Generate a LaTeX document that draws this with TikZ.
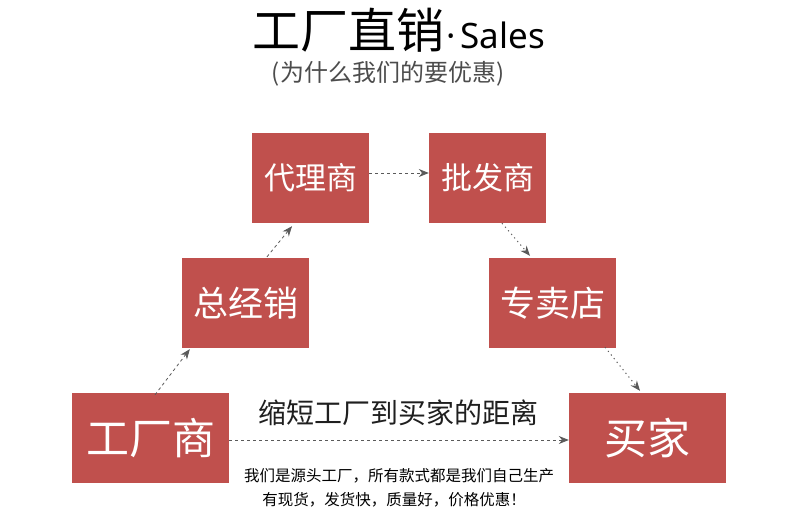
\documentclass[tikz,border=0pt]{standalone}
\usepackage{fontspec}
\newfontfamily\cjk{Noto Sans CJK SC}
\newfontfamily\latn{Noto Sans}
\usetikzlibrary{arrows.meta}
\definecolor{boxred}{HTML}{C0504D}
\definecolor{arrowgray}{HTML}{5A5A5A}
\tikzset{
  redbox/.style={fill=boxred, draw=none, text=white, inner sep=0pt, font=\cjk\fontsize{31}{31}\selectfont},
  bigbox/.style={redbox, minimum width=157pt, minimum height=90pt, font=\cjk\fontsize{43}{43}\selectfont},
  midbox/.style={redbox, minimum width=127pt, minimum height=90pt, font=\cjk\fontsize{35}{35}\selectfont},
  topbox/.style={redbox, minimum width=117pt, minimum height=90pt},
  flow/.style={draw=arrowgray, line width=0.8pt, dashed, -{Stealth[length=10pt,width=8pt]}, color=arrowgray},
  dotflow/.style={draw=arrowgray, line width=1pt, dash pattern=on 1.2pt off 3.5pt, -{Stealth[length=10pt,width=8pt]}, color=arrowgray},
  txt/.style={inner sep=0pt, font=\cjk}
}
\begin{document}
\begin{tikzpicture}[x=1pt,y=-1pt]
\useasboundingbox (0,0) rectangle (790,530);
% title
\node[txt, font=\cjk\fontsize{48}{48}\selectfont, text=black, anchor=base east] (title) at (445,48) {工厂直销};
\node[txt, font=\latn\fontsize{35}{35}\selectfont, text=black, anchor=base west] (sales) at ([xshift=1pt]title.base east) {·\hspace{5pt}Sales};
\node[txt, font=\cjk\fontsize{24}{24}\selectfont, text=black!70] (sub) at (388,74) {(为什么我们的要优惠)};
% boxes
\node[topbox] (dls) at (310.5,178) {代理商};
\node[topbox] (pfs) at (487.5,178) {批发商};
\node[midbox] (zjx) at (245.5,303) {总经销};
\node[midbox] (zmd) at (552.5,303) {专卖店};
\node[bigbox] (gcs) at (150.5,438) {工厂商};
\node[bigbox] (mj) at (647.5,438) {买家};
% texts
\node[txt, font=\cjk\fontsize{28}{28}\selectfont, text=black!88] (slogan) at (398.5,413) {缩短工厂到买家的距离};
\node[txt, font=\cjk\fontsize{15.5}{15.5}\selectfont, text=black] (line1) at (399,476) {我们是源头工厂，所有款式都是我们自己生产};
\node[txt, font=\cjk\fontsize{15.5}{15.5}\selectfont, text=black] (line2) at (394,500) {有现货，发货快，质量好，价格优惠！};
% arrows
\draw[flow] ([xshift=4.5pt,yshift=-2pt]gcs.north) -- ([xshift=8pt,yshift=-1pt]zjx.south west);
\draw[flow] ([xshift=21.5pt,yshift=1pt]zjx.north) -- ([xshift=-18.5pt,yshift=-3pt]dls.south);
\draw[flow] ([yshift=5pt]dls.east) -- ([yshift=5pt]pfs.west);
\draw[dotflow] ([xshift=14.5pt]pfs.south) -- ([xshift=-22.5pt,yshift=2pt]zmd.north);
\draw[dotflow] ([xshift=52.5pt,yshift=1pt]zmd.south) -- ([xshift=-7.5pt,yshift=2pt]mj.north);
\draw[flow] ([yshift=-2pt]gcs.east) -- ([yshift=-2pt]mj.west);
\end{tikzpicture}
\end{document}
